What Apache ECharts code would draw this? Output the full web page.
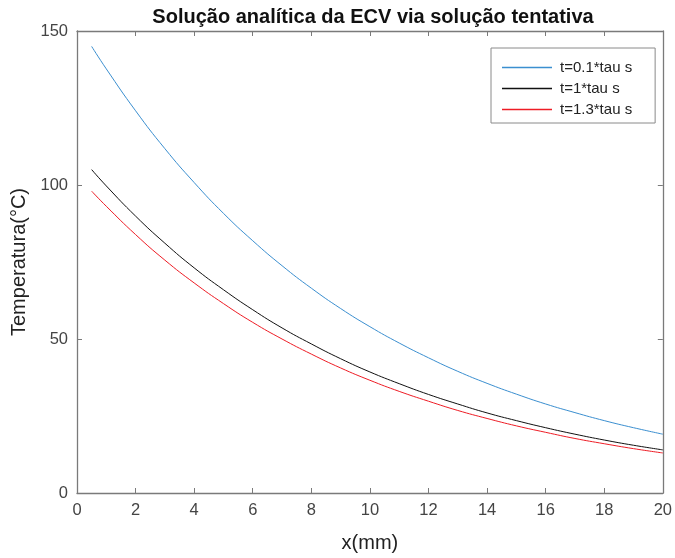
<!DOCTYPE html>
<html><head><meta charset="utf-8">
<script src="https://cdn.jsdelivr.net/npm/echarts@6/dist/echarts.min.js"></script>
<style>html,body{margin:0;padding:0;background:#fff}#c{width:675px;height:558px}</style>
</head><body><div id="c"></div>
<script>
const titleText = 'Solução analítica da ECV via solução tentativa';
const xName = 'x(mm)';
const yName = 'Temperatura(°C)';
const seriesNames = ['t=0.1*tau s', 't=1*tau s', 't=1.3*tau s'];
const xs = [0.5,1,2,3,4,5,6,7,8,9,10,11,12,13,14,15,16,17,18,19,20];
const tBlue  = [145,137.7,124.1,111.8,100.8,90.8,81.9,73.8,66.5,59.9,54.0,48.7,43.9,39.5,35.6,32.1,28.9,26.1,23.5,21.2,19.1];
const tBlack = [105,99.7,89.9,81.1,73.1,66.0,59.5,53.6,48.4,43.6,39.3,35.5,32.0,28.9,26.0,23.5,21.2,19.1,17.2,15.5,14.0];
const tRed   = [98,93.1,83.9,75.6,68.2,61.5,55.4,50.0,45.1,40.6,36.6,33.0,29.8,26.8,24.2,21.8,19.7,17.7,16.0,14.4,13.0];
const xTicks = {min:0, max:20, interval:2};
const yTicks = {min:0, max:150, interval:50};
const colors = ['#3b8fd0', '#111111', '#ee1c25'];

const FONT = 'Liberation Sans, Arial, sans-serif';
const axisColor = '#7a7a7a';
const pair = ys => xs.map((x,i)=>[x, ys[i]]);
const baseAxis = (t) => ({
  type:'value', min:t.min, max:t.max, interval:t.interval,
  axisLine:{show:true, onZero:false, lineStyle:{color:axisColor, width:1.3}},
  axisTick:{show:true, inside:true, length:5, lineStyle:{color:axisColor, width:1}},
  splitLine:{show:false}
});
const chart = echarts.init(document.getElementById('c'));
chart.setOption({
  animation:false,
  backgroundColor:'#fff',
  title:{text:titleText, left:368, textAlign:'center', top:2,
    textStyle:{fontFamily:FONT, fontSize:20, fontWeight:'bold', color:'#111'}},
  grid:{left:77, right:12, top:31, bottom:64},
  legend:{
    orient:'vertical', left:491, top:48,
    data:seriesNames,
    icon:'rect',
    itemWidth:50, itemHeight:1.3, itemGap:6,
    padding:[12,23,6,11],
    borderColor:'#8a8a8a', borderWidth:1,
    backgroundColor:'#fff',
    textStyle:{fontFamily:FONT, fontSize:15, lineHeight:14, color:'#222', padding:[0,0,0,3]}
  },
  xAxis:[
    Object.assign(baseAxis(xTicks), {position:'bottom', name:xName, nameLocation:'middle', nameGap:40,
      nameTextStyle:{fontFamily:FONT, fontSize:20, color:'#222'},
      axisLabel:{fontFamily:FONT, fontSize:16.5, color:'#444', margin:9}}),
    Object.assign(baseAxis(xTicks), {position:'top', axisLabel:{show:false}})
  ],
  yAxis:[
    Object.assign(baseAxis(yTicks), {position:'left', name:yName, nameLocation:'middle', nameGap:43,
      nameTextStyle:{fontFamily:FONT, fontSize:20, color:'#222'},
      axisLabel:{fontFamily:FONT, fontSize:16.5, color:'#444', margin:9}}),
    Object.assign(baseAxis(yTicks), {position:'right', axisLabel:{show:false}})
  ],
  series:[
    {name:seriesNames[0], type:'line', data:pair(tBlue), smooth:true, symbol:'none', lineStyle:{color:colors[0], width:1}, itemStyle:{color:colors[0]}},
    {name:seriesNames[1], type:'line', data:pair(tBlack), smooth:true, symbol:'none', lineStyle:{color:colors[1], width:1}, itemStyle:{color:colors[1]}},
    {name:seriesNames[2], type:'line', data:pair(tRed), smooth:true, symbol:'none', lineStyle:{color:colors[2], width:1}, itemStyle:{color:colors[2]}}
  ]
});
</script></body></html>
